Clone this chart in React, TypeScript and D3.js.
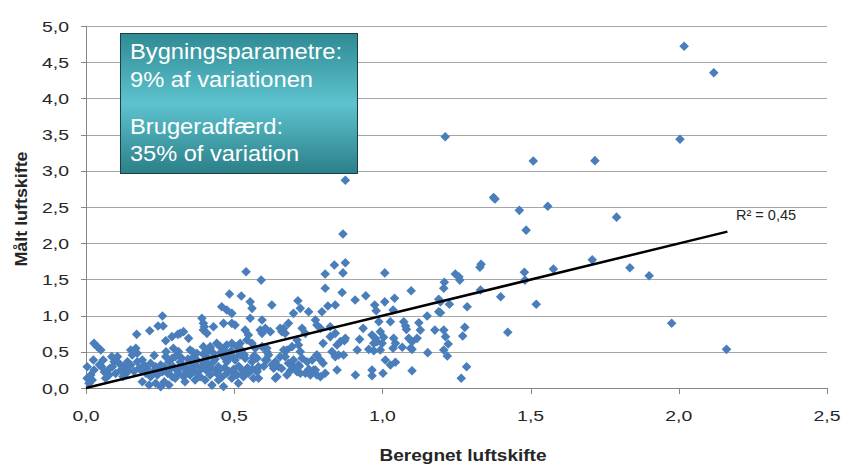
import React from "react";
import * as d3 from "d3";

// ---- data ----
const pointsX: number[] = [
  2.018, 2.118, 2.004, 1.717, 1.79, 1.708, 1.835, 1.9, 1.976, 2.161,
  1.212, 1.509, 1.375, 1.38, 1.462, 1.558, 1.485, 1.577, 1.479, 1.481,
  1.333, 1.329, 1.246, 1.258, 1.261, 1.209, 1.207, 1.196, 1.226, 1.331,
  1.399, 1.286, 1.519, 1.196, 1.207, 1.213, 1.222, 1.278, 1.271, 1.423,
  1.284, 1.266,
  0.875, 0.867, 1.008, 0.864, 0.908, 0.944, 0.974, 0.979, 1.008, 1.041,
  1.097, 1.036, 1.19, 1.19, 0.988, 1.027, 1.072, 1.078, 1.123, 1.151,
  1.177, 0.935, 0.875, 0.872, 0.923, 0.965, 0.976, 0.982, 0.971, 0.993,
  1.004, 0.999, 0.993, 1.038, 1.044, 1.081, 1.089, 1.1, 1.095, 1.117,
  1.128, 0.915, 0.869, 0.954, 0.971, 1.036, 1.067, 1.1, 1.153, 1.207,
  1.219, 1.01, 1.027, 1.044, 0.909, 0.965, 0.965, 1.002, 1.1,
  0.807, 0.627, 0.715, 0.723, 0.751, 0.816, 0.841, 0.796, 0.7, 0.594,
  0.605, 0.622, 0.683, 0.667, 0.672, 0.729, 0.74, 0.774, 0.779, 0.791,
  0.824, 0.841, 0.824, 0.8, 0.847, 0.858, 0.712, 0.717, 0.695, 0.678,
  0.672, 0.594, 0.61, 0.616, 0.605, 0.571, 0.582, 0.577, 0.639, 0.65,
  0.633, 0.683, 0.7, 0.717, 0.712, 0.74, 0.729, 0.746, 0.763, 0.779,
  0.791, 0.8, 0.83, 0.841, 0.852, 0.768, 0.779, 0.807, 0.639, 0.847,
  0.582,
  0.484, 0.524, 0.554, 0.56, 0.458, 0.475, 0.492, 0.554, 0.492, 0.503,
  0.464, 0.391, 0.396, 0.43, 0.396, 0.408, 0.537, 0.548, 0.318, 0.329,
  0.346, 0.29, 0.295, 0.312, 0.301, 0.323, 0.351, 0.363, 0.374, 0.396,
  0.408, 0.419, 0.43, 0.441, 0.453, 0.464, 0.475, 0.492, 0.509, 0.52,
  0.543, 0.56, 0.571, 0.351, 0.34, 0.368, 0.385, 0.396, 0.413, 0.43,
  0.447, 0.464, 0.475, 0.486, 0.503, 0.52, 0.537, 0.56, 0.577, 0.295,
  0.312, 0.301, 0.329, 0.351, 0.368, 0.385, 0.402, 0.419, 0.441, 0.458,
  0.475, 0.492, 0.509, 0.531, 0.548, 0.565, 0.464, 0.425, 0.514, 0.334,
  0.258, 0.26, 0.243, 0.215, 0.171, 0.269, 0.027, 0.038, 0.05, 0.151,
  0.168, 0.173, 0.156, 0.106, 0.095, 0.089, 0.14, 0.151, 0.128, 0.173,
  0.19, 0.196, 0.179, 0.218, 0.235, 0.252, 0.269, 0.28, 0.264, 0.291,
  0.027, 0.016, 0.004, 0.021, 0.01, 0.066, 0.078, 0.202, 0.218, 0.241,
  0.258, 0.275, 0.291, 0.19, 0.213, 0.235, 0.264, 0.28, 0.252,
  0.399, 0.31,
  0.54, 0.591, 0.807, 0.655, 0.661, 0.588, 0.594,
  0.867, 0.838, 0.875,
  0.004, 0.025, 0.058, 0.087, 0.053,
  0.644, 0.678, 0.723, 0.757, 0.774, 0.791, 0.577, 0.531, 0.447, 0.498,
  0.7, 0.655, 0.61, 0.565, 0.52, 0.464, 0.419, 0.61, 0.667, 0.723, 0.779,
  // extra points in the dense core
  0.118, 0.135, 0.112, 0.162, 0.185, 0.205, 0.228, 0.246, 0.272, 0.286,
  0.306, 0.322, 0.338, 0.356, 0.372, 0.388, 0.405, 0.422, 0.438, 0.452,
  0.468, 0.482, 0.498, 0.515, 0.528, 0.545, 0.562, 0.318, 0.344, 0.376,
  0.41, 0.436, 0.47, 0.5, 0.534, 0.566, 0.6, 0.628, 0.66, 0.69,
  0.72, 0.752, 0.23, 0.27, 0.31, 0.36, 0.395, 0.455, 0.49, 0.525,
  0.062, 0.045, 0.08, 0.1, 0.142, 0.125,
];

const pointsY: number[] = [
  4.72, 4.355, 3.435, 3.14, 2.36, 1.77, 1.66, 1.55, 0.894, 0.534,
  3.47, 3.135, 2.63, 2.61, 2.454, 2.51, 2.18, 1.644, 1.598, 1.49,
  1.708, 1.667, 1.575, 1.537, 1.49, 1.46, 1.377, 1.19, 1.156, 1.354,
  1.26, 1.123, 1.156, 1.04, 0.8, 0.709, 0.608, 0.838, 0.718, 0.77,
  0.294, 0.134,
  1.73, 1.59, 1.59, 1.32, 1.215, 1.275, 1.146, 1.068, 1.19, 1.239,
  1.344, 1.077, 1.225, 1.054, 0.916, 0.916, 0.916, 0.856, 0.902, 0.994,
  0.8, 0.824, 0.686, 0.653, 0.672, 0.732, 0.686, 0.64, 0.617, 0.778,
  0.7, 0.617, 0.525, 0.686, 0.617, 0.81, 0.686, 0.64, 0.548, 0.686,
  0.8, 0.525, 0.456, 0.534, 0.515, 0.548, 0.562, 0.534, 0.488, 0.525,
  0.442, 0.387, 0.318, 0.355, 0.18, 0.249, 0.17, 0.203, 0.239,
  1.377, 1.146, 1.206, 1.1, 1.054, 1.132, 1.146, 1.054, 1.031, 0.939,
  0.824, 0.778, 0.893, 0.824, 0.755, 0.824, 0.755, 0.939, 0.87, 0.824,
  0.847, 0.755, 0.709, 0.617, 0.594, 0.64, 0.663, 0.594, 0.571, 0.525,
  0.433, 0.571, 0.502, 0.456, 0.387, 0.433, 0.294, 0.225, 0.363, 0.294,
  0.272, 0.341, 0.294, 0.318, 0.225, 0.203, 0.41, 0.363, 0.387, 0.456,
  0.387, 0.341, 0.502, 0.433, 0.456, 0.249, 0.18, 0.203, 0.134, 0.249,
  0.134,
  1.298, 1.27, 1.19, 1.1, 1.123, 1.077, 1.031, 0.963, 0.893, 0.87,
  0.893, 0.963, 0.893, 0.847, 0.8, 0.755, 0.8, 0.732, 0.755, 0.778,
  0.686, 0.709, 0.548, 0.502, 0.433, 0.41, 0.525, 0.433, 0.479, 0.571,
  0.502, 0.548, 0.479, 0.617, 0.571, 0.525, 0.594, 0.617, 0.571, 0.617,
  0.663, 0.617, 0.548, 0.363, 0.272, 0.318, 0.249, 0.363, 0.318, 0.363,
  0.294, 0.433, 0.363, 0.433, 0.387, 0.456, 0.41, 0.363, 0.41, 0.294,
  0.203, 0.134, 0.156, 0.18, 0.11, 0.156, 0.11, 0.18, 0.203, 0.148,
  0.203, 0.134, 0.18, 0.156, 0.203, 0.134, 0.02, 0.04, 0.065, 0.087,
  0.994, 0.856, 0.856, 0.791, 0.741, 0.653, 0.617, 0.571, 0.525, 0.525,
  0.548, 0.479, 0.456, 0.433, 0.363, 0.294, 0.363, 0.318, 0.294, 0.363,
  0.387, 0.318, 0.272, 0.341, 0.294, 0.318, 0.433, 0.363, 0.294, 0.41,
  0.249, 0.18, 0.134, 0.11, 0.065, 0.134, 0.18, 0.203, 0.156, 0.18,
  0.225, 0.203, 0.156, 0.087, 0.041, 0.065, 0.087, 0.041, 0.018,
  0.847, 0.741,
  1.606, 1.49, 1.575, 0.824, 0.778, 0.8, 0.755,
  2.127, 1.699, 2.87,
  0.294, 0.387, 0.387, 0.433, 0.294,
  0.156, 0.18, 0.203, 0.18, 0.249, 0.156, 0.249, 0.203, 0.11, 0.225,
  0.387, 0.433, 0.387, 0.41, 0.479, 0.525, 0.571, 0.548, 0.525, 0.502, 0.456,
  // extra points in the dense core
  0.25, 0.2, 0.34, 0.23, 0.25, 0.27, 0.23, 0.26, 0.25, 0.27,
  0.25, 0.3, 0.23, 0.27, 0.21, 0.29, 0.25, 0.27, 0.24, 0.26,
  0.28, 0.23, 0.26, 0.3, 0.24, 0.28, 0.26, 0.36, 0.4, 0.38,
  0.42, 0.4, 0.45, 0.42, 0.46, 0.44, 0.3, 0.32, 0.27, 0.24,
  0.3, 0.26, 0.45, 0.5, 0.46, 0.5, 0.47, 0.49, 0.51, 0.52,
  0.22, 0.32, 0.27, 0.2, 0.24, 0.16,
];

const trendX: number[] = [0, 2.164];
const trendY: number[] = [0, 2.16];

const xTicks: number[] = [0, 0.5, 1.0, 1.5, 2.0, 2.5];
const yTicks: number[] = [0, 0.5, 1.0, 1.5, 2.0, 2.5, 3.0, 3.5, 4.0, 4.5, 5.0];

const xTitle = "Beregnet luftskifte";
const yTitle = "Målt luftskifte";
const rSquaredLabel = "R² = 0,45";
const boxLines: string[] = [
  "Bygningsparametre:",
  "9% af variationen",
  "Brugeradfærd:",
  "35% of variation",
];

const W = 842;
const H = 464;
const M = { left: 86, right: 827, top: 26, bottom: 388 };

const fmt = (v: number) => v.toFixed(1).replace(".", ",");

export default function App() {
  const x = d3.scaleLinear().domain([0, 2.5]).range([M.left, M.right]);
  const y = d3.scaleLinear().domain([0, 5]).range([M.bottom, M.top]);
  const line = d3
    .line<number>()
    .x((_, i) => x(trendX[i]))
    .y((d) => y(d));
  const r = 4.8;
  const diamond = `M0,${-r}L${r},0L0,${r}L${-r},0Z`;
  const font = "'Liberation Sans', Arial, sans-serif";
  const boxY = [59, 87, 134, 161];
  const boxW = [212, 183, 153, 169];

  return (
    <svg
      width={W}
      height={H}
      style={{ position: "absolute", left: 0, top: 0, background: "#fff" }}
    >
      <defs>
        <linearGradient id="boxGrad" x1="0" y1="0" x2="0" y2="1">
          <stop offset="0%" stopColor="#2f8a93" />
          <stop offset="50%" stopColor="#5dc3cf" />
          <stop offset="100%" stopColor="#2b7f88" />
        </linearGradient>
      </defs>
      <rect x={0} y={0} width={W} height={H} fill="#fff" />

      {/* gridlines */}
      {yTicks.map((t) =>
        t === 0 ? null : (
          <line
            key={"g" + t}
            x1={M.left}
            x2={M.right}
            y1={Math.round(y(t)) + 0.5}
            y2={Math.round(y(t)) + 0.5}
            stroke="#a6a6a6"
            strokeWidth={1}
          />
        )
      )}

      {/* axes */}
      <line x1={M.left + 0.5} x2={M.left + 0.5} y1={M.top} y2={M.bottom} stroke="#868686" />
      <line x1={M.left} x2={M.right} y1={M.bottom + 0.5} y2={M.bottom + 0.5} stroke="#868686" />
      {yTicks.map((t) => (
        <line
          key={"yt" + t}
          x1={M.left - 5}
          x2={M.left}
          y1={Math.round(y(t)) + 0.5}
          y2={Math.round(y(t)) + 0.5}
          stroke="#868686"
        />
      ))}
      {xTicks.map((t) => (
        <line
          key={"xt" + t}
          x1={Math.round(x(t)) + 0.5}
          x2={Math.round(x(t)) + 0.5}
          y1={M.bottom}
          y2={M.bottom + 6}
          stroke="#868686"
        />
      ))}

      {/* tick labels */}
      {yTicks.map((t) => (
        <text
          key={"yl" + t}
          x={69}
          y={y(t) + 5.5}
          textAnchor="end"
          fontFamily={font}
          fontSize={15}
          fill="#262626"
          textLength={27}
          lengthAdjust="spacingAndGlyphs"
        >
          {fmt(t)}
        </text>
      ))}
      {xTicks.map((t) => (
        <text
          key={"xl" + t}
          x={x(t)}
          y={421}
          textAnchor="middle"
          fontFamily={font}
          fontSize={15}
          fill="#262626"
          textLength={27}
          lengthAdjust="spacingAndGlyphs"
        >
          {fmt(t)}
        </text>
      ))}

      {/* axis titles */}
      <text
        x={463}
        y={461}
        textAnchor="middle"
        fontFamily={font}
        fontSize={16}
        fontWeight="bold"
        fill="#262626"
        textLength={167}
        lengthAdjust="spacingAndGlyphs"
      >
        {xTitle}
      </text>
      <text
        transform={`translate(27,${209}) rotate(-90)`}
        textAnchor="middle"
        fontFamily={font}
        fontSize={16}
        fontWeight="bold"
        fill="#262626"
        textLength={115}
        lengthAdjust="spacingAndGlyphs"
      >
        {yTitle}
      </text>

      {/* points */}
      {pointsX.map((px, i) => (
        <path
          key={"p" + i}
          d={diamond}
          transform={`translate(${x(px)},${y(pointsY[i])})`}
          fill="#4a7ebb"
        />
      ))}

      {/* trend line */}
      <path d={line(trendY) || ""} fill="none" stroke="#000" strokeWidth={2.5} />
      <text x={736} y={220} fontFamily={font} fontSize={14.5} fill="#262626">
        {rSquaredLabel}
      </text>

      {/* annotation box */}
      <rect x={120.5} y={33.5} width={237} height={140} fill="url(#boxGrad)" stroke="#1d3f44" strokeWidth={1} />
      {boxLines.map((s, i) => (
        <text
          key={"b" + i}
          x={130}
          y={boxY[i]}
          fontFamily={font}
          fontSize={22}
          fill="#ffffff"
          textLength={boxW[i]}
          lengthAdjust="spacingAndGlyphs"
        >
          {s}
        </text>
      ))}
    </svg>
  );
}
